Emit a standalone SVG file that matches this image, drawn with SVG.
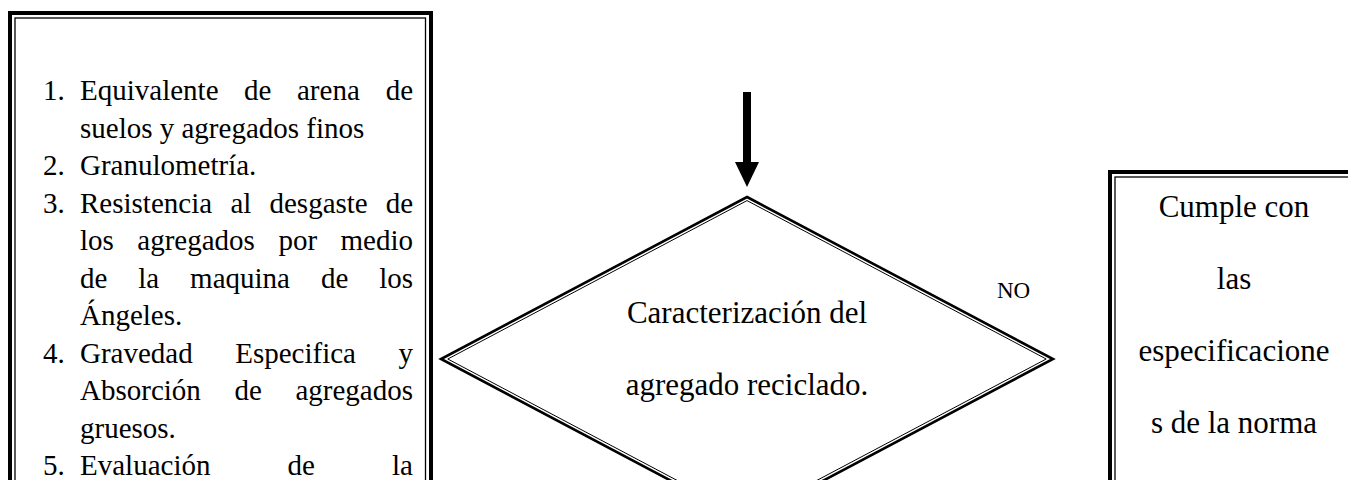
<svg xmlns="http://www.w3.org/2000/svg" width="1348" height="480" viewBox="0 0 1348 480">
  <style>
    .thick { fill: none; stroke: #000; stroke-width: 4; }
    .thin { fill: none; stroke: #000; stroke-width: 1.3; }
    .dthick { fill: #fff; stroke: #000; stroke-width: 2.6; stroke-linejoin: miter; }
    .dthin { fill: none; stroke: #000; stroke-width: 1; }
    .txt { font-family: "Liberation Serif", "Times New Roman", serif; fill: #000; }
    .list { font-size: 29px; }
    .big { font-size: 31px; }
    .lbl { font-size: 23px; }
    .end { text-anchor: end; }
    .mid { text-anchor: middle; }
  </style>
  <defs>
    <marker id="head" viewBox="0 0 25 24" refX="0" refY="12" markerWidth="25" markerHeight="24" markerUnits="userSpaceOnUse" orient="auto">
      <path d="M0,0 L25,12 L0,24 z" fill="#000"/>
    </marker>
  </defs>
  <rect x="0" y="0" width="1348" height="480" fill="#fff"/>

  <g id="connectors">
    <line x1="747" y1="92" x2="747" y2="162" stroke="#000" stroke-width="8" marker-end="url(#head)"/>
  </g>

  <g id="tests-box">
    <rect class="thick" x="10" y="13" width="421" height="520"/>
    <rect class="thin" x="15" y="18" width="410.5" height="510"/>
    <g class="txt list">
      <text x="43" y="100">1.</text>
      <text x="80" y="100">Equivalente</text>
      <text x="244" y="100">de</text>
      <text x="297" y="100">arena</text>
      <text x="413" y="100" class="end">de</text>

      <text x="80" y="137.5">suelos y agregados finos</text>

      <text x="43" y="175">2.</text>
      <text x="80" y="175">Granulometría.</text>

      <text x="43" y="212.5">3.</text>
      <text x="80" y="212.5">Resistencia</text>
      <text x="230.5" y="212.5">al</text>
      <text x="269.5" y="212.5">desgaste</text>
      <text x="413" y="212.5" class="end">de</text>

      <text x="80" y="250">los</text>
      <text x="137.3" y="250">agregados</text>
      <text x="278.4" y="250">por</text>
      <text x="413" y="250" class="end">medio</text>

      <text x="80" y="287.5">de</text>
      <text x="138.3" y="287.5">la</text>
      <text x="190.1" y="287.5">maquina</text>
      <text x="320.9" y="287.5">de</text>
      <text x="413" y="287.5" class="end">los</text>

      <text x="80" y="325">Ángeles.</text>

      <text x="43" y="362.5">4.</text>
      <text x="80" y="362.5">Gravedad</text>
      <text x="235.2" y="362.5">Especifica</text>
      <text x="413" y="362.5" class="end">y</text>

      <text x="80" y="400">Absorción</text>
      <text x="234.4" y="400">de</text>
      <text x="413" y="400" class="end">agregados</text>

      <text x="80" y="437.5">gruesos.</text>

      <text x="43" y="475">5.</text>
      <text x="80" y="475">Evaluación</text>
      <text x="287.6" y="475">de</text>
      <text x="413" y="475" class="end">la</text>
    </g>
  </g>

  <g id="decision">
    <polygon class="dthick" points="747,197 1053,359 747,521 441,359"/>
    <polygon class="dthin" points="747,200.6 1046.2,359 747,517.4 447.8,359"/>
    <text class="txt big mid" x="747" y="323">Caracterización del</text>
    <text class="txt big mid" x="747" y="395">agregado reciclado.</text>
  </g>

  <g id="no-label">
    <text class="txt lbl" x="997" y="298">NO</text>
  </g>

  <g id="check-box">
    <rect class="thick" x="1110" y="172" width="300" height="400"/>
    <rect class="thin" x="1115" y="177" width="290" height="390"/>
    <g class="txt big mid">
      <text x="1234" y="217">Cumple con</text>
      <text x="1234" y="289">las</text>
      <text x="1234" y="361">especificacione</text>
      <text x="1234" y="433">s de la norma</text>
    </g>
  </g>
</svg>
